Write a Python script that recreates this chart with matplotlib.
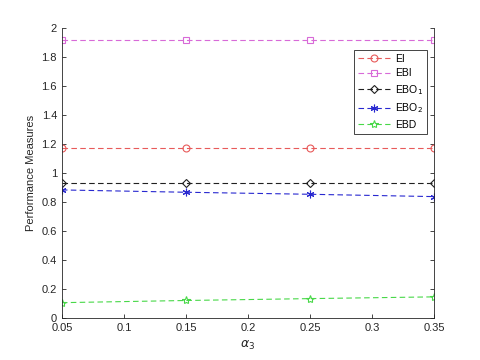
import matplotlib
matplotlib.use("Agg")
import matplotlib.pyplot as plt

plt.rcParams['font.family'] = ['Liberation Sans', 'DejaVu Sans']

alpha3 = [0.05, 0.15, 0.25, 0.35]
ei = [1.17, 1.17, 1.17, 1.17]
ebi = [1.92, 1.92, 1.92, 1.92]
ebo1 = [0.93, 0.93, 0.93, 0.93]
ebo2 = [0.883, 0.867, 0.853, 0.837]
ebd = [0.105, 0.12, 0.133, 0.145]

# (values, label, colour, marker, marker size)
series = [
    (ei, 'EI', '#e85a5a', 'o', 5),
    (ebi, 'EBI', '#d86ad8', 's', 3.8),
    (ebo1, 'EBO$_1$', '#202020', 'D', 4.2),
    (ebo2, 'EBO$_2$', '#2828d0', (6, 2, 0), 5.5),
    (ebd, 'EBD', '#48d848', '*', 6),
]

fig = plt.figure(figsize=(4.8, 3.6), dpi=100)
ax = fig.add_axes([0.129, 0.117, 0.775, 0.805])

for vals, name, col, mk, ms in series:
    ax.plot(alpha3, vals, linestyle='--', color=col, marker=mk, markersize=ms,
            markerfacecolor='none', markeredgecolor=col, linewidth=0.8,
            markeredgewidth=0.8, label=name, dashes=(5, 3))

ax.set_xlim(0.05, 0.35)
ax.set_ylim(0, 2)
ax.set_xticks([0.05, 0.1, 0.15, 0.2, 0.25, 0.3, 0.35])
ax.set_xticklabels(['0.05', '0.1', '0.15', '0.2', '0.25', '0.3', '0.35'])
ax.set_yticks([0, 0.2, 0.4, 0.6, 0.8, 1, 1.2, 1.4, 1.6, 1.8, 2])
ax.set_yticklabels(['0', '0.2', '0.4', '0.6', '0.8', '1', '1.2', '1.4', '1.6', '1.8', '2'])
ax.tick_params(direction='in', labelsize=8, colors='#262626', length=3, width=0.6,
               top=False, right=True)
ax.tick_params(axis='x', pad=4)
for s in ax.spines.values():
    s.set_color('#262626')
    s.set_linewidth(0.6)
ax.spines['top'].set_visible(False)

ax.set_xlabel(r'$\alpha_3$', fontsize=9, color='#262626')
ax.set_ylabel('Performance Measures', fontsize=8, color='#262626')

leg = ax.legend(loc='upper right', bbox_to_anchor=(0.99, 0.935), fontsize=7.5,
                fancybox=False, edgecolor='#262626', framealpha=1,
                handlelength=3.1, handletextpad=0.5, borderpad=0.35,
                labelspacing=0.45, borderaxespad=0.3)
leg.get_frame().set_linewidth(0.6)

fig.savefig('out.png', dpi=100)
